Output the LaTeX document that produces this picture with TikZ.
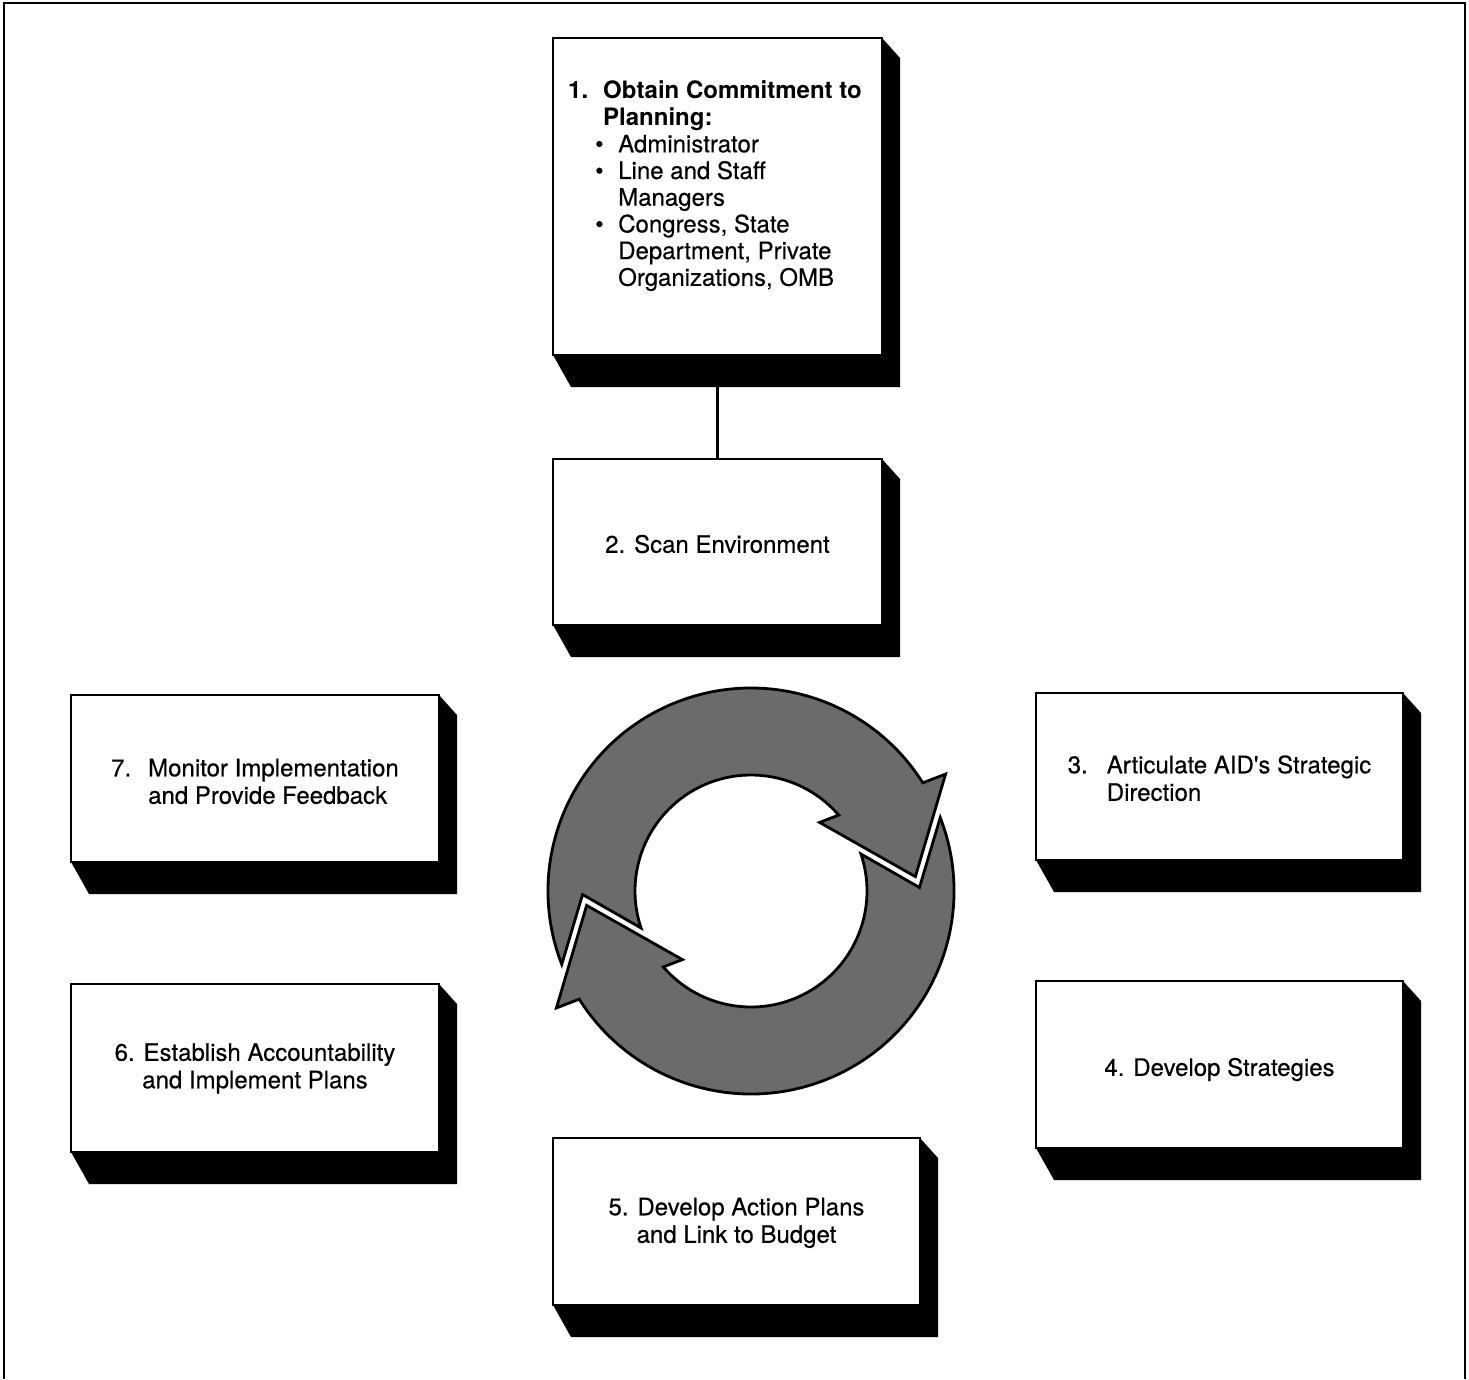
\documentclass[tikz,border=0pt]{standalone}
\usepackage{fontspec}
\setmainfont{TeX Gyre Heros}[UprightFeatures={FakeBold=0.35}]
\newfontfamily\straight{TeX Gyre Heros}[UprightFeatures={FakeBold=0.35}]
\usetikzlibrary{calc}
\begin{document}
\begin{tikzpicture}[x=1pt,y=-1pt,
  stepbox/.style={draw, line width=1.8pt, fill=white, inner sep=0pt, outer sep=0pt,
    font=\fontsize{24}{27.5}\selectfont, align=center},
  ringarrow/.style={fill=black!58, draw=black, line width=2.8pt, line join=miter},
  frame/.style={line width=2.8pt}]
\useasboundingbox (0,0) rectangle (1469,1379);
\newcommand\boxshadow[1]{\fill (#1.north east) -- ++(18,20) -- ([shift={(18,32)}]#1.south east) -- ([shift={(18,32)}]#1.south west) -- (#1.south west) -- (#1.south east) -- cycle;}
\newcommand\bul{\makebox[15pt][l]{\hspace*{-8pt}•}}
\newcommand\down[2]{\raisebox{-#1}[\height][\depth]{#2}}
% frame
\draw[frame] (4,1379) -- (4,3) -- (1465,3) -- (1465,1379);
% boxes
\node[stepbox, minimum width=329, minimum height=317] (b1) at (717.5,196.5) {};
\node[stepbox, minimum width=329, minimum height=166] (b2) at (717.5,542) {\down{2pt}{2. Scan Environment}};
\node[stepbox, minimum width=367, minimum height=167] (b3) at (1219.5,776.5)
  {\down{5pt}{\begin{tabular}{@{}l@{\hspace{19pt}}l@{}}3. & Articulate AID{\straight'}s Strategic\\ & Direction\end{tabular}}};
\node[stepbox, minimum width=367, minimum height=167] (b4) at (1219.5,1064.5) {\down{5pt}{4. Develop Strategies}};
\node[stepbox, minimum width=367, minimum height=167] (b5) at (736.5,1221.5)
  {\down{2pt}{\begin{tabular}{@{}c@{}}5. Develop Action Plans\\and Link to Budget\end{tabular}}};
\node[stepbox, minimum width=368, minimum height=168] (b6) at (255,1068)
  {\down{1pt}{\begin{tabular}{@{}c@{}}6. Establish Accountability\\and Implement Plans\end{tabular}}};
\node[stepbox, minimum width=368, minimum height=167] (b7) at (255,778.5)
  {\down{6pt}{\begin{tabular}{@{}l@{\hspace{17pt}}l@{}}7. & Monitor Implementation\\ & and Provide Feedback\end{tabular}}};
\foreach \b in {b1,b2,b3,b4,b5,b6,b7} {\boxshadow{\b}}
\node[anchor=north west, inner sep=0pt, font=\fontsize{24}{26.7}\selectfont] (t1) at (568,80)
  {\begin{tabular}[t]{@{}l@{\hspace{15pt}}l@{}}
   \textbf{1.} & \textbf{Obtain Commitment to}\\
   & \textbf{Planning:}\\
   & \bul Administrator\\
   & \bul Line and Staff\\
   & \hspace*{15pt}Managers\\
   & \bul Congress, State\\
   & \hspace*{15pt}Department, Private\\
   & \hspace*{15pt}Organizations, OMB
  \end{tabular}};
% connector
\draw[line width=2.2pt] (b1.south) -- (b2.north);
% ring arrows
\begin{scope}[shift={(751,891)}, yscale=-1]
  \foreach \r in {0,180} {
  \begin{scope}[rotate=\r]
  \filldraw[ringarrow] (201.2:203) arc[start angle=201.2, end angle=32.2, radius=203]
     -- (31:227) -- (5:165) -- (45:97) -- (40.9:116)
     arc[start angle=40.9, end angle=198.6, radius=116] -- (181.2:168.5) -- cycle;
  \end{scope}}
\end{scope}
\end{tikzpicture}
\end{document}
